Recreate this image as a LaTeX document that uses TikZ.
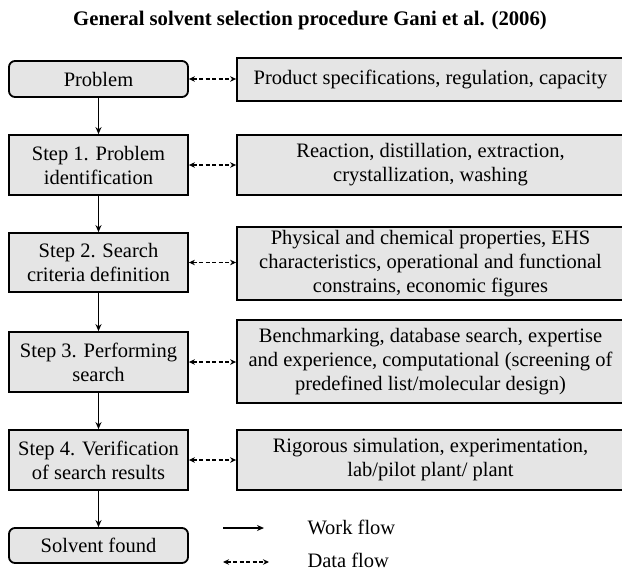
\documentclass[tikz,border=0pt]{standalone}
\usepackage{fontspec}
\setmainfont{Liberation Serif}
\usetikzlibrary{arrows.meta}
\begin{document}
\begin{tikzpicture}[x=1pt,y=-1pt,
  box/.style={draw=black,line width=1.8pt,fill=black!10,align=center,
    inner sep=0pt,font=\fontsize{20.5}{24}\selectfont},
  stepbox/.style={box,minimum width=179pt},
  roundbox/.style={stepbox,rounded corners=6pt},
  infobox/.style={box,minimum width=387pt},
  work/.style={line width=1.8pt,-{Stealth[length=7pt,width=6pt]}},
  data/.style={line width=1.6pt,dash pattern=on 4pt off 2.5pt,
    {Stealth[length=6pt,width=5.5pt]}-{Stealth[length=6pt,width=5.5pt]}},
  legend/.style={anchor=west,font=\fontsize{20.5}{24}\selectfont}]
\clip (0,0) rectangle (622,571);
\fill[white] (0,0) rectangle (622,571);

\node[font=\bfseries\fontsize{20.7}{25}\selectfont] (title) at (310,21)
  {General solvent selection procedure Gani et al. (2006)};

% process steps
\node[roundbox,minimum height=36pt] (p0) at (98.5,79) {Problem};
\node[stepbox,minimum height=60pt] (s1) at (98.5,165) {Step 1. Problem\\identification};
\node[stepbox,minimum height=59pt] (s2) at (98.5,262.5) {Step 2. Search\\criteria definition};
\node[stepbox,minimum height=60pt] (s3) at (98.5,362) {Step 3. Performing\\search};
\node[stepbox,minimum height=60pt] (s4) at (98.5,460) {Step 4. Verification\\of search results};
\node[roundbox,minimum height=35pt] (s5) at (98.5,545.5) {Solvent found};

% information for each step
\node[infobox,minimum height=43pt] (d0) at (430.5,79.5) {Product specifications, regulation, capacity};
\node[infobox,minimum height=60pt] (d1) at (430.5,165) {Reaction, distillation, extraction,\\crystallization, washing};
\node[infobox,minimum height=73pt] (d2) at (430.5,263.5) {Physical and chemical properties, EHS\\characteristics, operational and functional\\constrains, economic figures};
\node[infobox,minimum height=83pt] (d3) at (430.5,361.5) {Benchmarking, database search, expertise\\and experience, computational (screening of\\predefined list/molecular design)};
\node[infobox,minimum height=60pt] (d4) at (430.5,460) {Rigorous simulation, experimentation,\\lab/pilot plant/ plant};

% work flow
\draw[work] (p0) -- (s1);
\draw[work] (s1) -- (s2);
\draw[work] (s2) -- (s3);
\draw[work] (s3) -- (s4);
\draw[work] (s4) -- (s5);

% data flow
\draw[data] (p0.east) -- (p0.east -| d0.west);
\draw[data] (s1.east) -- (s1.east -| d1.west);
\draw[data] (s2.east) -- (s2.east -| d2.west);
\draw[data] (s3.east) -- (s3.east -| d3.west);
\draw[data] (s4.east) -- (s4.east -| d4.west);

% legend
\coordinate (wa) at (223,528);
\coordinate (wb) at (264,528);
\coordinate (da) at (223,562);
\coordinate (db) at (269,562);
\draw[work] (wa) -- (wb);
\draw[data] (da) -- (db);
\node[legend] (wl) at (304,527) {Work flow};
\node[legend] (dl) at (304,560) {Data flow};
\end{tikzpicture}
\end{document}
